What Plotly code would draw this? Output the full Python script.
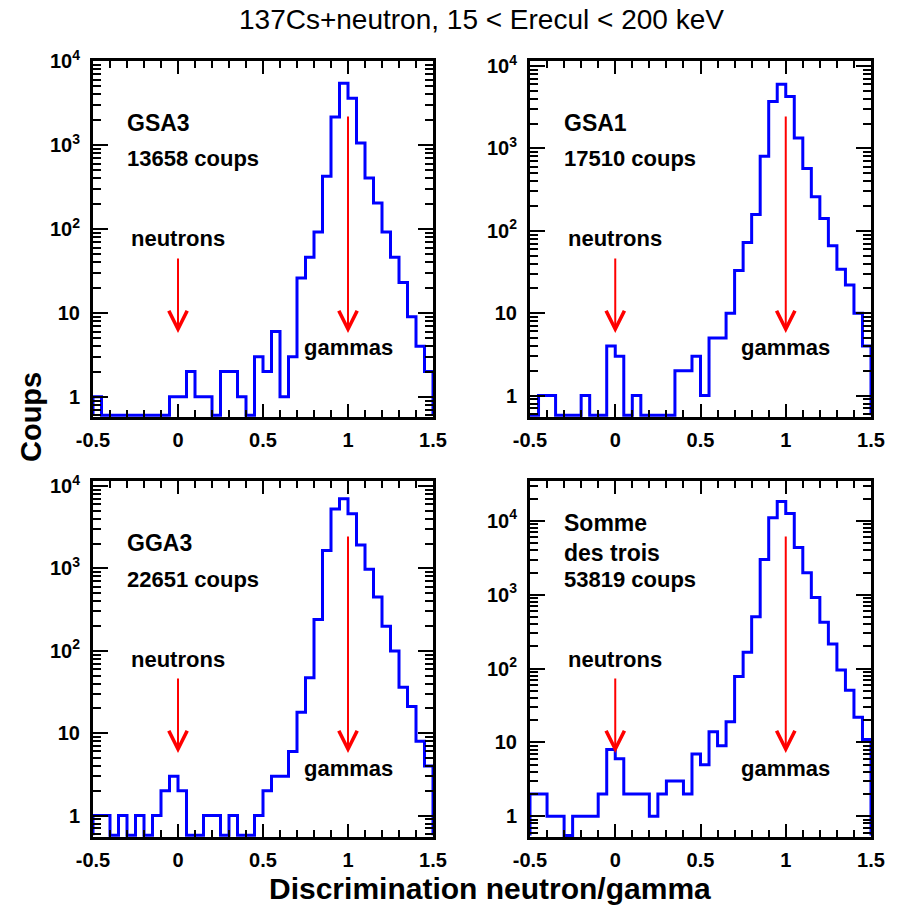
import numpy as np
import plotly.graph_objects as go

W, H = 899, 905

# 40 bins of width 0.05 on the discrimination variable
bin_edges = np.round(np.linspace(-0.5, 1.5, 41), 3)

counts_gsa3 = [1, 0, 0, 0, 0, 0, 0, 0, 0, 1,
               1, 2, 1, 1, 0, 2, 2, 1, 0, 3,
               2, 6, 1, 3, 26, 46, 92, 424, 2154, 5450,
               3600, 1057, 405, 204, 92, 46, 23, 9, 4, 2]
counts_gsa1 = [0, 1, 1, 0, 0, 0, 1, 0, 0, 4,
               3, 0, 1, 0, 0, 0, 0, 2, 2, 3,
               1, 5, 5, 10, 33, 72, 158, 800, 3700, 6000,
               4250, 1334, 568, 258, 141, 66, 34, 22, 10, 4]
counts_gga3 = [1, 1, 0, 1, 0, 1, 0, 1, 2, 3,
               2, 0, 0, 1, 1, 0, 1, 0, 0, 1,
               2, 3, 3, 6, 18, 47, 240, 1650, 5250, 7000,
               4600, 1920, 973, 449, 199, 99, 36, 21, 8, 4]
counts_somme = [2, 2, 1, 1, 0, 1, 1, 1, 2, 8,
                6, 2, 2, 2, 1, 2, 3, 3, 2, 7,
                5, 14, 9, 19, 78, 166, 504, 3000, 11000, 18350,
                12580, 4350, 1983, 920, 423, 215, 96, 51, 22, 11]

panel_counts = [counts_gsa3, counts_gsa1, counts_gga3, counts_somme]
panel_names = ["GSA3", "GSA1", "GGA3", "Somme<br>des trois"]
panel_totals = ["13658 coups", "17510 coups", "22651 coups", "53819 coups"]

x_tickvals = [-0.5, 0, 0.5, 1, 1.5]
x_ticktext = ["-0.5", "0", "0.5", "1", "1.5"]
y_tickvals = [1, 10, 100, 1000, 10000]
y_ticktext = ["1", "10", "10<sup>2</sup>", "10<sup>3</sup>", "10<sup>4</sup>"]

neutron_x = 0.0
gamma_x = 1.0

title_text = "137Cs+neutron, 15 < Erecul < 200 keV"
x_title = "Discrimination neutron/gamma"
y_title = "Coups"

# ---- layout geometry (pixels) ----
frames = [(93, 433, 61, 417), (530, 871, 61, 417),
          (93, 433, 481, 837), (530, 871, 481, 837)]
y_log_ranges = [(-0.24, 4.0), (-0.26, 4.06), (-0.26, 4.06), (-0.28, 4.54)]

FONT = "Liberation Sans"
BLUE = "#0000ff"
RED = "#ff0000"

minor_x = [round(v, 2) for v in np.arange(-0.5, 1.5001, 0.1)]
minor_y = [m * 10 ** d for d in range(-1, 5) for m in range(2, 10)]

fig = go.Figure()
annotations = []

for i, (counts, frame, yr) in enumerate(zip(panel_counts, frames, y_log_ranges)):
    n = i + 1
    xa = "xaxis" if n == 1 else f"xaxis{n}"
    ya = "yaxis" if n == 1 else f"yaxis{n}"
    xr = "x" if n == 1 else f"x{n}"
    yrf = "y" if n == 1 else f"y{n}"
    left, right, top, bottom = frame

    # empty bins sit on the lower edge of the log frame
    floor = 10 ** (yr[0] + 0.02)
    ys = [c if c > 0 else floor for c in counts]
    hx = [bin_edges[0]] + list(bin_edges[:-1]) + [bin_edges[-1], bin_edges[-1]]
    hy = [floor] + ys + [ys[-1], floor]
    fig.add_trace(go.Scatter(x=hx, y=hy, mode="lines", line_shape="hv",
                             line=dict(color=BLUE, width=3),
                             xaxis=xr, yaxis=yrf, showlegend=False,
                             hoverinfo="skip"))

    fig.layout[xa] = dict(
        domain=[left / W, right / W], anchor=yrf, range=[-0.5, 1.5],
        automargin=False,
        showline=True, linecolor="black", linewidth=3, mirror="ticks",
        ticks="inside", ticklen=13, tickwidth=2, tickcolor="black",
        tickvals=x_tickvals, ticktext=x_ticktext,
        minor=dict(tickvals=minor_x, ticks="inside", ticklen=7,
                   tickwidth=2, tickcolor="black", showgrid=False),
        showgrid=False, zeroline=False, ticklabelstandoff=3,
        tickfont=dict(family=FONT, size=20, color="black", weight="bold"),
    )
    fig.layout[ya] = dict(
        domain=[1 - bottom / H, 1 - top / H], anchor=xr, type="log",
        range=list(yr), automargin=False,
        showline=True, linecolor="black", linewidth=3, mirror="ticks",
        ticks="inside", ticklen=15, tickwidth=2, tickcolor="black",
        tickvals=y_tickvals, ticktext=y_ticktext,
        minor=dict(tickvals=minor_y, ticks="inside", ticklen=8,
                   tickwidth=2, tickcolor="black", showgrid=False),
        showgrid=False, zeroline=False, ticklabelstandoff=6,
        tickfont=dict(family=FONT, size=20, color="black", weight="bold"),
    )

    xd, yd = f"{xr} domain", f"{yrf} domain"
    h = bottom - top
    w = right - left
    two_line = "<br>" in panel_names[i]
    annotations.append(dict(
        text=panel_names[i], xref=xd, yref=yd,
        x=32 / w, y=1 - (57 if two_line else 62) / h,
        xanchor="left", yanchor="middle", showarrow=False, align="left",
        font=dict(family=FONT, size=23, color="black", weight="bold")))
    annotations.append(dict(
        text=panel_totals[i], xref=xd, yref=yd,
        x=32 / w, y=1 - 98 / h, xanchor="left", yanchor="middle",
        showarrow=False,
        font=dict(family=FONT, size=22, color="black", weight="bold")))
    annotations.append(dict(
        text="neutrons", xref=xr, yref=yd, x=neutron_x, y=1 - 178 / h,
        xanchor="center", yanchor="middle", showarrow=False,
        font=dict(family=FONT, size=22, color="black", weight="bold")))
    annotations.append(dict(
        text="gammas", xref=xr, yref=yd, x=gamma_x, y=1 - 287 / h,
        xanchor="center", yanchor="middle", showarrow=False,
        font=dict(family=FONT, size=22, color="black", weight="bold")))
    tip = 1 - 272 / h
    for ax_x, length in ((neutron_x, 76), (gamma_x, 218)):
        annotations.append(dict(
            text="", xref=xr, yref=yd, x=ax_x, y=tip, ax=0, ay=-length,
            showarrow=True, arrowhead=5, arrowsize=1.8, arrowwidth=2,
            arrowcolor=RED))

annotations.append(dict(
    text=title_text, xref="paper", yref="paper", x=481 / W, y=1 - 19 / H,
    xanchor="center", yanchor="middle", showarrow=False,
    font=dict(family=FONT, size=28, color="black")))
annotations.append(dict(
    text=x_title, xref="paper", yref="paper", x=490 / W, y=1 - 888 / H,
    xanchor="center", yanchor="middle", showarrow=False,
    font=dict(family=FONT, size=30, color="black", weight="bold")))
annotations.append(dict(
    text=y_title, xref="paper", yref="paper", x=31 / W, y=1 - 417 / H,
    xanchor="center", yanchor="middle", showarrow=False, textangle=-90,
    font=dict(family=FONT, size=29, color="black", weight="bold")))

fig.update_layout(
    width=W, height=H, margin=dict(l=0, r=0, t=0, b=0),
    paper_bgcolor="white", plot_bgcolor="white",
    annotations=annotations, showlegend=False,
)

fig.write_html("out.html")
